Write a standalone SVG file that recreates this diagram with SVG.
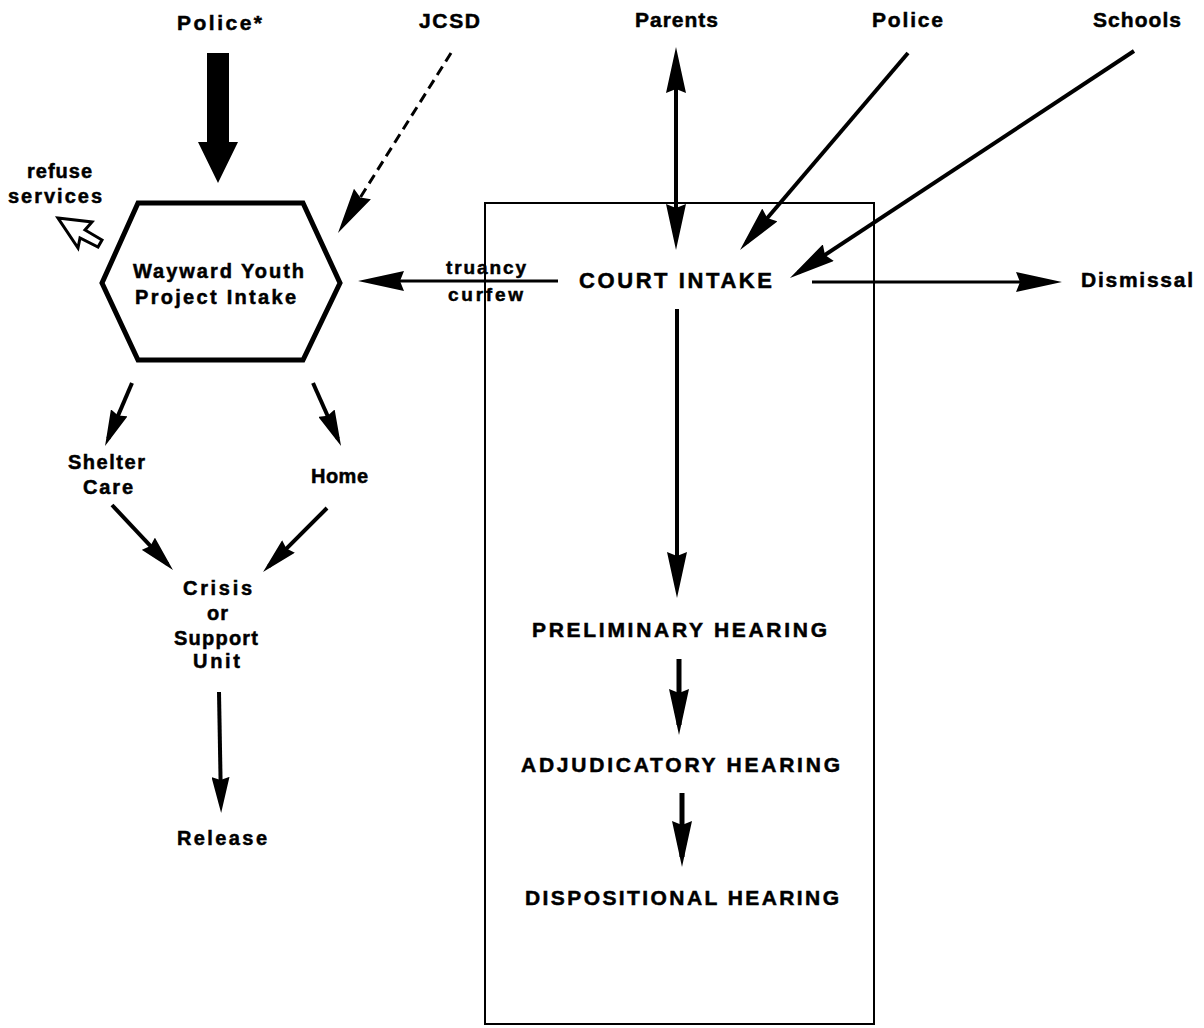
<svg xmlns="http://www.w3.org/2000/svg" width="1204" height="1028" viewBox="0 0 1204 1028">
<style>
text{font-family:"Liberation Sans",Arial,sans-serif;font-weight:bold;fill:#000;stroke:#000;stroke-width:0.5}
.t21{font-size:21px}.t20{font-size:20px}.t19{font-size:19px}.t22{font-size:22px}
.c{fill:none;stroke:#000;stroke-width:4}
.c3{fill:none;stroke:#000;stroke-width:3}
.a{marker-end:url(#ah)}.as{marker-end:url(#ahs)}
</style>
<defs>
<marker id="ah" viewBox="0 0 46 20" markerWidth="46" markerHeight="20" refX="36" refY="10" markerUnits="userSpaceOnUse" orient="auto-start-reverse"><path d="M0,0 L46,10 L0,20 L4,10 z" fill="#000"/></marker>
<marker id="ahs" viewBox="0 0 36 18" markerWidth="36" markerHeight="18" refX="28" refY="9" markerUnits="userSpaceOnUse" orient="auto"><path d="M0,0 L36,9 L0,18 L3,9 z" fill="#000"/></marker>
</defs>
<rect width="1204" height="1028" fill="#fff"/>
<g id="court-box"><rect x="485" y="203" width="389" height="821" fill="none" stroke="#000" stroke-width="2"/></g>
<g id="connectors">
<path d="M207,53 H229 V142 H238 L218,183 L198,142 H207 Z" fill="#000"/>
<line x1="451" y1="53" x2="343.3" y2="224.5" class="c3 a" stroke-dasharray="10 6"/>
<path d="M58,218 L92,222 L85,230 L102,240 L98,247 L80,238 L78,248 Z" fill="#fff" stroke="#000" stroke-width="3" stroke-linejoin="miter"/>
<line x1="676" y1="57" x2="676" y2="240" class="c a" marker-start="url(#ah)"/>
<line x1="908" y1="53" x2="746.5" y2="242.4" class="c a" stroke-width="4.5"/>
<line x1="1134" y1="51" x2="798.3" y2="272.5" class="c a" stroke-width="4.5"/>
<line x1="558" y1="281" x2="368" y2="281" class="c3 a"/>
<line x1="812" y1="282" x2="1052" y2="282" class="c3 a"/>
<line x1="677" y1="309" x2="677" y2="588" class="c a"/>
<line x1="679" y1="659" x2="679" y2="725" class="a" stroke="#000" stroke-width="5"/>
<line x1="682" y1="793" x2="682" y2="857" class="a" stroke="#000" stroke-width="5"/>
<line x1="132" y1="383" x2="108.2" y2="438.6" class="c as"/>
<line x1="313" y1="383" x2="337.8" y2="438.7" class="c as"/>
<line x1="112" y1="505" x2="167.5" y2="564.2" class="c as"/>
<line x1="327" y1="508" x2="268.7" y2="566.3" class="c as"/>
<line x1="219" y1="692" x2="221" y2="805" class="c as"/>
</g>
<g id="police-star"><text class="t21" x="177" y="30" textLength="85" lengthAdjust="spacing">Police*</text></g>
<g id="jcsd"><text class="t21" x="419" y="28" textLength="61" lengthAdjust="spacing">JCSD</text></g>
<g id="parents"><text class="t21" x="635" y="27" textLength="83" lengthAdjust="spacing">Parents</text></g>
<g id="police"><text class="t21" x="872" y="27" textLength="71" lengthAdjust="spacing">Police</text></g>
<g id="schools"><text class="t21" x="1093" y="27" textLength="88" lengthAdjust="spacing">Schools</text></g>
<g id="refuse-services"><text class="t20" x="27" y="178" textLength="65" lengthAdjust="spacing">refuse</text><text class="t20" x="8" y="203" textLength="94" lengthAdjust="spacing">services</text></g>
<g id="wayward-intake">
<polygon points="138,203 303,203 340,283 303,360 138,360 102,283" fill="none" stroke="#000" stroke-width="5" stroke-linejoin="miter"/>
<text class="t20" x="133" y="278" textLength="171" lengthAdjust="spacing">Wayward Youth</text>
<text class="t20" x="135" y="304" textLength="161" lengthAdjust="spacing">Project Intake</text>
</g>
<g id="truancy-label"><text class="t19" x="446" y="274" textLength="80" lengthAdjust="spacing">truancy</text><text class="t19" x="448" y="301" textLength="75" lengthAdjust="spacing">curfew</text></g>
<g id="court-intake"><text class="t22" x="579" y="288" textLength="193" lengthAdjust="spacing">COURT INTAKE</text></g>
<g id="dismissal"><text class="t21" x="1081" y="287" textLength="112" lengthAdjust="spacing">Dismissal</text></g>
<g id="preliminary"><text class="t21" x="532" y="637" textLength="295" lengthAdjust="spacing">PRELIMINARY HEARING</text></g>
<g id="adjudicatory"><text class="t21" x="521" y="772" textLength="319" lengthAdjust="spacing">ADJUDICATORY HEARING</text></g>
<g id="dispositional"><text class="t21" x="525" y="905" textLength="314" lengthAdjust="spacing">DISPOSITIONAL HEARING</text></g>
<g id="shelter"><text class="t20" x="68" y="469" textLength="77" lengthAdjust="spacing">Shelter</text><text class="t20" x="83" y="494" textLength="50" lengthAdjust="spacing">Care</text></g>
<g id="home"><text class="t20" x="311" y="483" textLength="57" lengthAdjust="spacing">Home</text></g>
<g id="crisis"><text class="t20" x="183" y="595" textLength="69" lengthAdjust="spacing">Crisis</text><text class="t20" x="207" y="620" textLength="21" lengthAdjust="spacing">or</text><text class="t20" x="174" y="645" textLength="84" lengthAdjust="spacing">Support</text><text class="t20" x="193" y="668" textLength="47" lengthAdjust="spacing">Unit</text></g>
<g id="release"><text class="t20" x="177" y="845" textLength="90" lengthAdjust="spacing">Release</text></g>
</svg>
